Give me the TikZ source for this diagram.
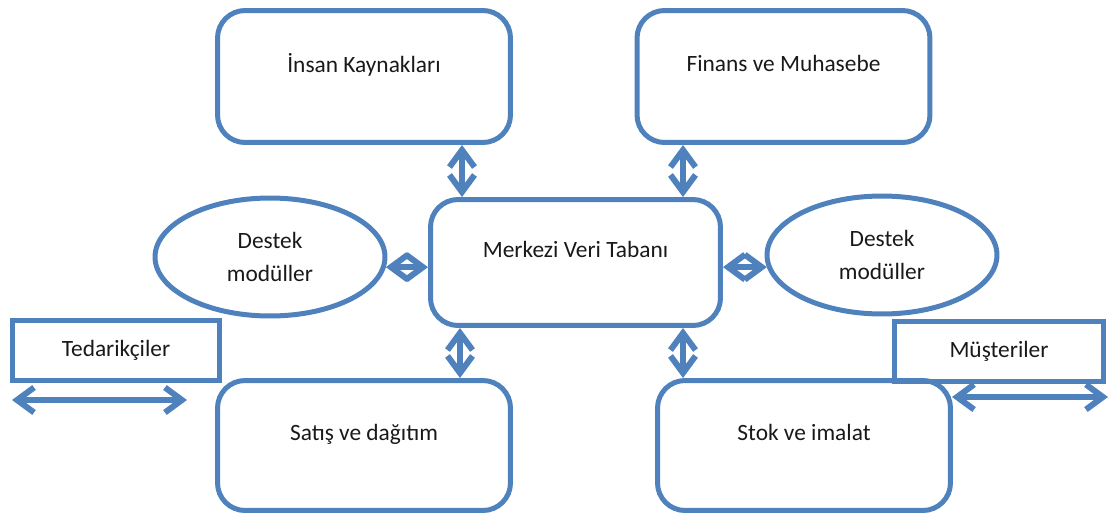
\documentclass[tikz,border=0pt]{standalone}
\usepackage{fontspec}
\setmainfont{Carlito}
\usetikzlibrary{arrows.meta, calc, shapes.geometric}
\definecolor{ofisblue}{HTML}{4F81BD}

\begin{document}
\begin{tikzpicture}[x=0.02cm, y=-0.02cm, >={Straight Barb[length=3.4mm, width=5mm]},
  line width=0.1cm,
  every node/.style={font=\fontsize{13.3}{19}\selectfont, text=black!90},
  modul/.style={draw=ofisblue, rounded corners=0.55cm, minimum width=5.86cm,
    minimum height=2.64cm, text depth=0.54cm},
  destek/.style={draw=ofisblue, ellipse, minimum width=4.6cm, minimum height=2.36cm,
    align=center},
  taraf/.style={draw=ofisblue, rectangle, minimum height=1.2cm},
  bag/.style={<->, draw=ofisblue, line width=0.12cm}]
  \useasboundingbox (0,0) rectangle (1110,515);
  % ===== Moduller =====
  \node[modul] (ik) at (364,76.5) {İnsan Kaynakları};
  \node[modul] (fm) at (783.5,76.5) {Finans ve Muhasebe};
  \node[modul, minimum width=5.8cm, minimum height=2.52cm] (mvt) at (575.5,262.5) {Merkezi Veri Tabanı};
  \node[modul, minimum height=2.6cm] (sd) at (364,445.5) {Satış ve dağıtım};
  \node[modul, minimum height=2.6cm] (si) at (804,445.5) {Stok ve imalat};
  % ===== Destek modulleri =====
  \node[destek] (ds1) at (270,257) {Destek\\modüller};
  \node[destek] (ds2) at (882,255) {Destek\\modüller};
  % ===== Tedarikciler / Musteriler =====
  \node[taraf, minimum width=4.14cm] (ted) at (116,350) {Tedarikçiler};
  \node[taraf, minimum width=4.18cm] (mus) at (999,351.5) {Müşteriler};
  \coordinate (t1) at (12,400);
  \coordinate (t2) at (187,400);
  \coordinate (m1) at (952,397);
  \coordinate (m2) at (1108,397);
  % ===== Baglantilar =====
  \draw[bag] (ik.south -| 462,0) -- (mvt.north -| 462,0);
  \draw[bag] (fm.south -| 683,0) -- (mvt.north -| 683,0);
  \draw[bag] (mvt.south -| 460,0) -- (sd.north -| 460,0);
  \draw[bag] (mvt.south -| 683,0) -- (si.north -| 683,0);
  \draw[bag] (ds1.-5) -- (mvt.west |- ds1.-5);
  \draw[bag] (mvt.east |- ds2.186) -- (ds2.186);
  \draw[bag] (t1) -- (t2);
  \draw[bag] (m1) -- (m2);
\end{tikzpicture}
\end{document}
